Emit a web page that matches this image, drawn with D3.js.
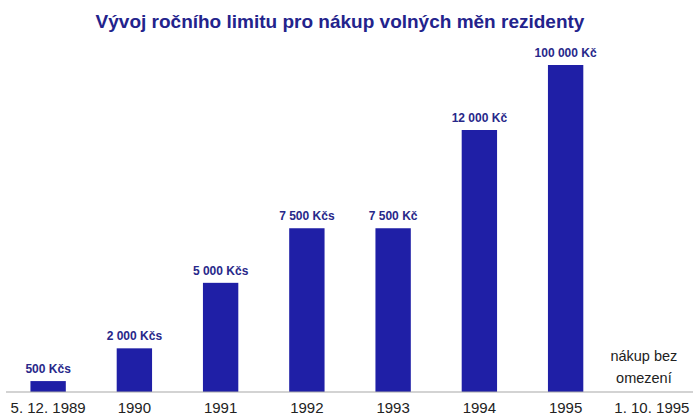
<!DOCTYPE html>
<html>
<head>
<meta charset="utf-8">
<script src="https://cdn.jsdelivr.net/npm/d3@7"></script>
<style>
  body { margin: 0; background: #fff; }
  text { font-family: "Liberation Sans", Arial, sans-serif; }
</style>
</head>
<body>
<div id="chart"></div>
<script>
const categories = ['5. 12. 1989', '1990', '1991', '1992', '1993', '1994', '1995', '1. 10. 1995'];
const limits = [500, 2000, 5000, 7500, 7500, 12000, 100000, null];
const valueLabels = ['500 Kčs', '2 000 Kčs', '5 000 Kčs', '7 500 Kčs', '7 500 Kč', '12 000 Kč', '100 000 Kč', null];
const noLimitLabel = ['nákup bez', 'omezení'];
const title = 'Vývoj ročního limitu pro nákup volných měn rezidenty';

const width = 700;
const height = 419;
const baseY = 392;

const svg = d3.select('#chart')
  .append('svg')
  .attr('width', width)
  .attr('height', height);

// title
svg.append('text')
  .attr('x', 340)
  .attr('y', 28)
  .attr('text-anchor', 'middle')
  .style('font-size', '19px')
  .style('font-weight', 'bold')
  .attr('fill', '#23238c')
  .text(title);

const x = d3.scaleBand()
  .domain(categories)
  .range([5, 695])
  .paddingInner(0.59)
  .paddingOuter(0.295);

// the last bar is shortened in the original, so the scale breaks above 12 000
const y = d3.scaleLinear()
  .domain([0, 12000, 100000])
  .range([baseY, 130, 65]);

const data = categories.map((c, i) => ({ cat: c, value: limits[i], label: valueLabels[i] }))
  .filter((d) => d.value !== null);

svg.selectAll('rect.bar')
  .data(data)
  .enter()
  .append('rect')
  .classed('bar', true)
  .attr('x', (d) => x(d.cat))
  .attr('y', (d) => y(d.value))
  .attr('width', x.bandwidth())
  .attr('height', (d) => baseY - y(d.value))
  .attr('fill', '#1f1fa6');

svg.selectAll('text.val')
  .data(data)
  .enter()
  .append('text')
  .classed('val', true)
  .attr('x', (d) => x(d.cat) + x.bandwidth() / 2)
  .attr('y', (d) => y(d.value) - 8)
  .attr('text-anchor', 'middle')
  .style('font-size', '12px')
  .style('font-weight', 'bold')
  .attr('fill', '#28288a')
  .text((d) => d.label);

// x axis
const xAxis = svg.append('g')
  .attr('transform', `translate(0,${baseY})`)
  .call(d3.axisBottom(x).tickSize(0).tickPadding(10));
xAxis.select('.domain')
  .attr('d', 'M6,0H693')
  .attr('stroke', '#a8a8a8')
  .attr('stroke-width', 1.2);
xAxis.selectAll('text')
  .style('font-size', '15px')
  .style('font-family', '"Liberation Sans", Arial, sans-serif')
  .attr('fill', '#222');

const last = categories[categories.length - 1];
svg.append('text')
  .attr('x', x(last) + x.bandwidth() / 2 - 8)
  .attr('y', 361)
  .attr('text-anchor', 'middle')
  .style('font-size', '14.5px')
  .attr('fill', '#222')
  .selectAll('tspan')
  .data(noLimitLabel)
  .enter()
  .append('tspan')
  .attr('x', x(last) + x.bandwidth() / 2 - 8)
  .attr('dy', (d, i) => (i === 0 ? 0 : 22))
  .text((d) => d);
</script>
</body>
</html>
